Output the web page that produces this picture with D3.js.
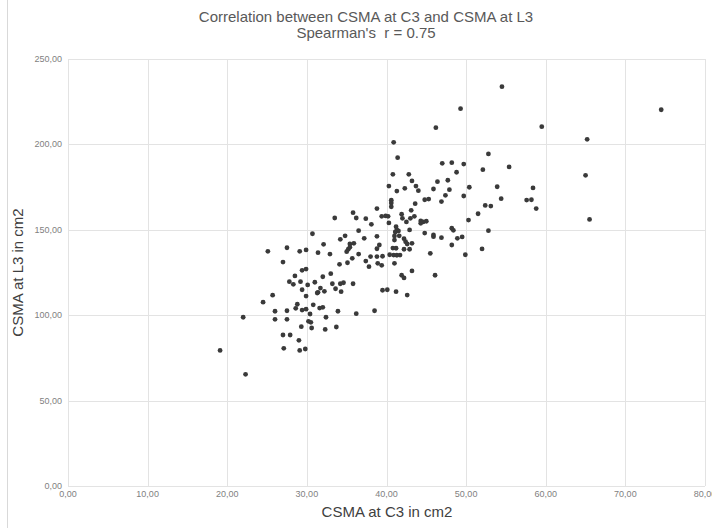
<!DOCTYPE html>
<head>
    <script src="https://cdn.jsdelivr.net/npm/d3@7"></script>
    <style>
        body { margin: 0; background: #fff; }
        text { font-family: "Liberation Sans", Arial, sans-serif; }
    </style>
</head>
<body>
    <svg></svg>
</body>

<script>
    // CSMA at C3 (x) and at L3 (y), cm2
    var c3 = [30.7,34.8,34.2,36.5,37.2,32.1,35.4,35.9,25.1,27.5,29.1,29.9,31.4,32.9,35.0,35.2,35.4,36.5,35.7,35.1,
        34.1,37.4,37.8,27.0,29.4,29.9,28.5,27.8,28.3,29.2,29.4,30.1,31.0,32.0,33.0,31.7,32.2,31.3,31.4,33.2,
        34.2,34.6,33.6,34.3,35.8,25.7,29.9,24.5,28.8,28.6,29.4,29.9,30.8,30.4,31.6,32.0,26.0,27.5,22.0,26.0,
        27.5,32.4,33.9,36.2,30.2,30.5,29.3,30.6,32.3,33.7,27.0,27.9,29.0,27.1,29.1,29.8,19.1,22.3,
        46.2,40.9,41.4,47.0,48.2,49.7,52.8,52.1,55.4,40.8,42.8,43.2,48.8,46.4,47.7,43.7,44.0,40.3,41.3,42.3,
        45.9,47.9,50.4,53.9,47.4,49.7,46.9,44.8,45.3,40.6,40.6,40.6,43.6,54.4,52.4,53.1,57.6,51.5,50.3,38.8,
        35.8,36.2,37.4,38.1,39.4,39.9,40.2,40.3,41.9,43.1,42.0,43.0,43.5,42.5,44.3,44.6,45.0,44.3,41.2,41.3,
        41.1,41.5,42.9,44.8,45.9,45.9,46.9,48.2,48.4,49.5,48.9,52.8,48.2,52.0,49.9,45.5,46.1,41.0,41.6,41.0,
        42.2,42.4,42.6,43.2,42.9,42.2,40.8,41.2,40.9,40.4,41.3,41.7,41.0,38.8,38.8,39.1,38.0,38.8,39.5,38.9,
        39.4,43.2,41.9,42.2,39.5,40.1,41.2,42.6,38.5,
        59.5,65.2,74.5,58.4,58.2,58.8,65.0,65.5,54.5,49.3,33.5];
    var l3 = [147.7,146.5,144.4,149.5,145.0,141.5,141.7,142.1,137.4,139.5,137.4,138.2,136.6,135.8,137.2,138.6,139.8,135.8,133.3,130.7,
        129.8,131.7,128.4,131.1,126.3,127.0,123.0,119.6,118.1,119.6,114.9,117.7,119.3,122.5,124.3,115.9,114.0,113.0,113.4,118.4,
        118.4,119.0,115.5,113.8,118.4,111.7,111.2,107.6,106.4,104.0,103.0,103.5,106.1,100.7,104.2,104.6,102.3,102.6,98.8,97.6,
        97.6,98.8,102.3,100.9,96.4,95.8,93.3,92.5,91.7,93.1,88.4,88.4,85.3,80.6,79.4,80.2,79.4,65.4,
        209.8,201.2,192.2,188.9,189.3,188.5,194.4,185.2,186.8,182.5,182.5,178.6,183.7,178.2,179.0,175.6,172.9,175.6,172.7,174.3,
        173.9,173.5,174.9,175.2,170.2,169.8,166.5,167.6,168.0,167.3,165.7,163.5,165.3,168.2,164.3,163.9,167.4,159.4,155.7,162.4,
        160.0,156.9,156.5,153.2,157.9,158.1,157.9,154.0,159.1,161.4,156.7,156.7,157.9,154.6,155.2,154.6,155.0,153.8,151.8,149.9,
        148.7,149.3,149.9,148.1,147.0,146.0,145.4,150.9,149.7,145.8,145.0,149.5,141.1,138.8,135.4,136.2,123.4,146.4,146.5,144.0,
        144.8,143.0,141.7,142.1,138.6,138.6,139.3,139.2,135.2,135.4,135.1,135.2,130.4,146.2,138.9,141.1,134.3,134.3,134.5,130.4,
        129.2,125.9,123.4,121.8,114.6,114.9,113.8,111.8,102.6,
        210.4,203.0,220.3,174.5,167.6,162.4,181.9,156.1,233.8,220.9,156.9];

    var xTicks = [0, 10, 20, 30, 40, 50, 60, 70, 80];
    var yTicks = [0, 50, 100, 150, 200, 250];
    var titleLines = ["Correlation between CSMA at C3 and CSMA at L3", "Spearman's\u00a0 r = 0.75"];

    // Variables
    var width = 712;
    var height = 528;
    var plot = {left: 68, right: 705, top: 59, bottom: 486};
    var grey = '#595959';
    var fmt = function (d) { return d3.format('.2f')(d).replace('.', ','); };

    var svg = d3.select('svg')
        .attr('width', width)
        .attr('height', height);

    var x = d3.scaleLinear().domain([0, 80]).range([plot.left, plot.right]);
    var y = d3.scaleLinear().domain([0, 250]).range([plot.bottom, plot.top]);

    // chart area border on the left
    svg.append('line')
        .attr('x1', 7.5).attr('x2', 7.5).attr('y1', 0).attr('y2', height)
        .style('stroke', '#d9d9d9');

    // Gridlines
    svg.append('g').selectAll('line')
        .data(xTicks)
        .enter().append('line')
        .attr('x1', function (d) { return Math.round(x(d)) + 0.5; })
        .attr('x2', function (d) { return Math.round(x(d)) + 0.5; })
        .attr('y1', plot.top).attr('y2', plot.bottom)
        .style('stroke', '#e3e3e3');

    svg.append('g').selectAll('line')
        .data(yTicks)
        .enter().append('line')
        .attr('y1', function (d) { return Math.round(y(d)) + 0.5; })
        .attr('y2', function (d) { return Math.round(y(d)) + 0.5; })
        .attr('x1', plot.left).attr('x2', plot.right)
        .style('stroke', '#e3e3e3');

    // Tick labels
    svg.append('g').selectAll('text')
        .data(xTicks)
        .enter().append('text')
        .attr('x', function (d) { return x(d); })
        .attr('y', plot.bottom + 11)
        .attr('text-anchor', 'middle')
        .style('font-size', '9px')
        .style('fill', '#7f7f7f')
        .text(fmt);

    svg.append('g').selectAll('text')
        .data(yTicks)
        .enter().append('text')
        .attr('x', plot.left - 6)
        .attr('y', function (d) { return y(d) + 3; })
        .attr('text-anchor', 'end')
        .style('font-size', '9px')
        .style('fill', '#7f7f7f')
        .text(fmt);

    // Points
    svg.append('g').selectAll('circle')
        .data(d3.range(c3.length))
        .enter().append('circle')
        .attr('cx', function (i) { return x(c3[i]); })
        .attr('cy', function (i) { return y(l3[i]); })
        .attr('r', 2.4)
        .style('fill', '#3a3a3a');

    // Titles
    svg.append('g').selectAll('text')
        .data(titleLines)
        .enter().append('text')
        .attr('x', 366)
        .attr('y', function (d, i) { return 22 + i * 16; })
        .attr('text-anchor', 'middle')
        .style('font-size', '15px')
        .style('fill', grey)
        .text(function (d) { return d; });

    svg.append('text')
        .attr('x', 387)
        .attr('y', 517)
        .attr('text-anchor', 'middle')
        .style('font-size', '15px')
        .style('fill', '#404040')
        .text('CSMA at C3 in cm2');

    svg.append('text')
        .attr('transform', 'translate(23,' + (plot.top + plot.bottom) / 2 + ') rotate(-90)')
        .attr('text-anchor', 'middle')
        .style('font-size', '15px')
        .style('fill', '#404040')
        .text('CSMA at L3 in cm2');
</script>
